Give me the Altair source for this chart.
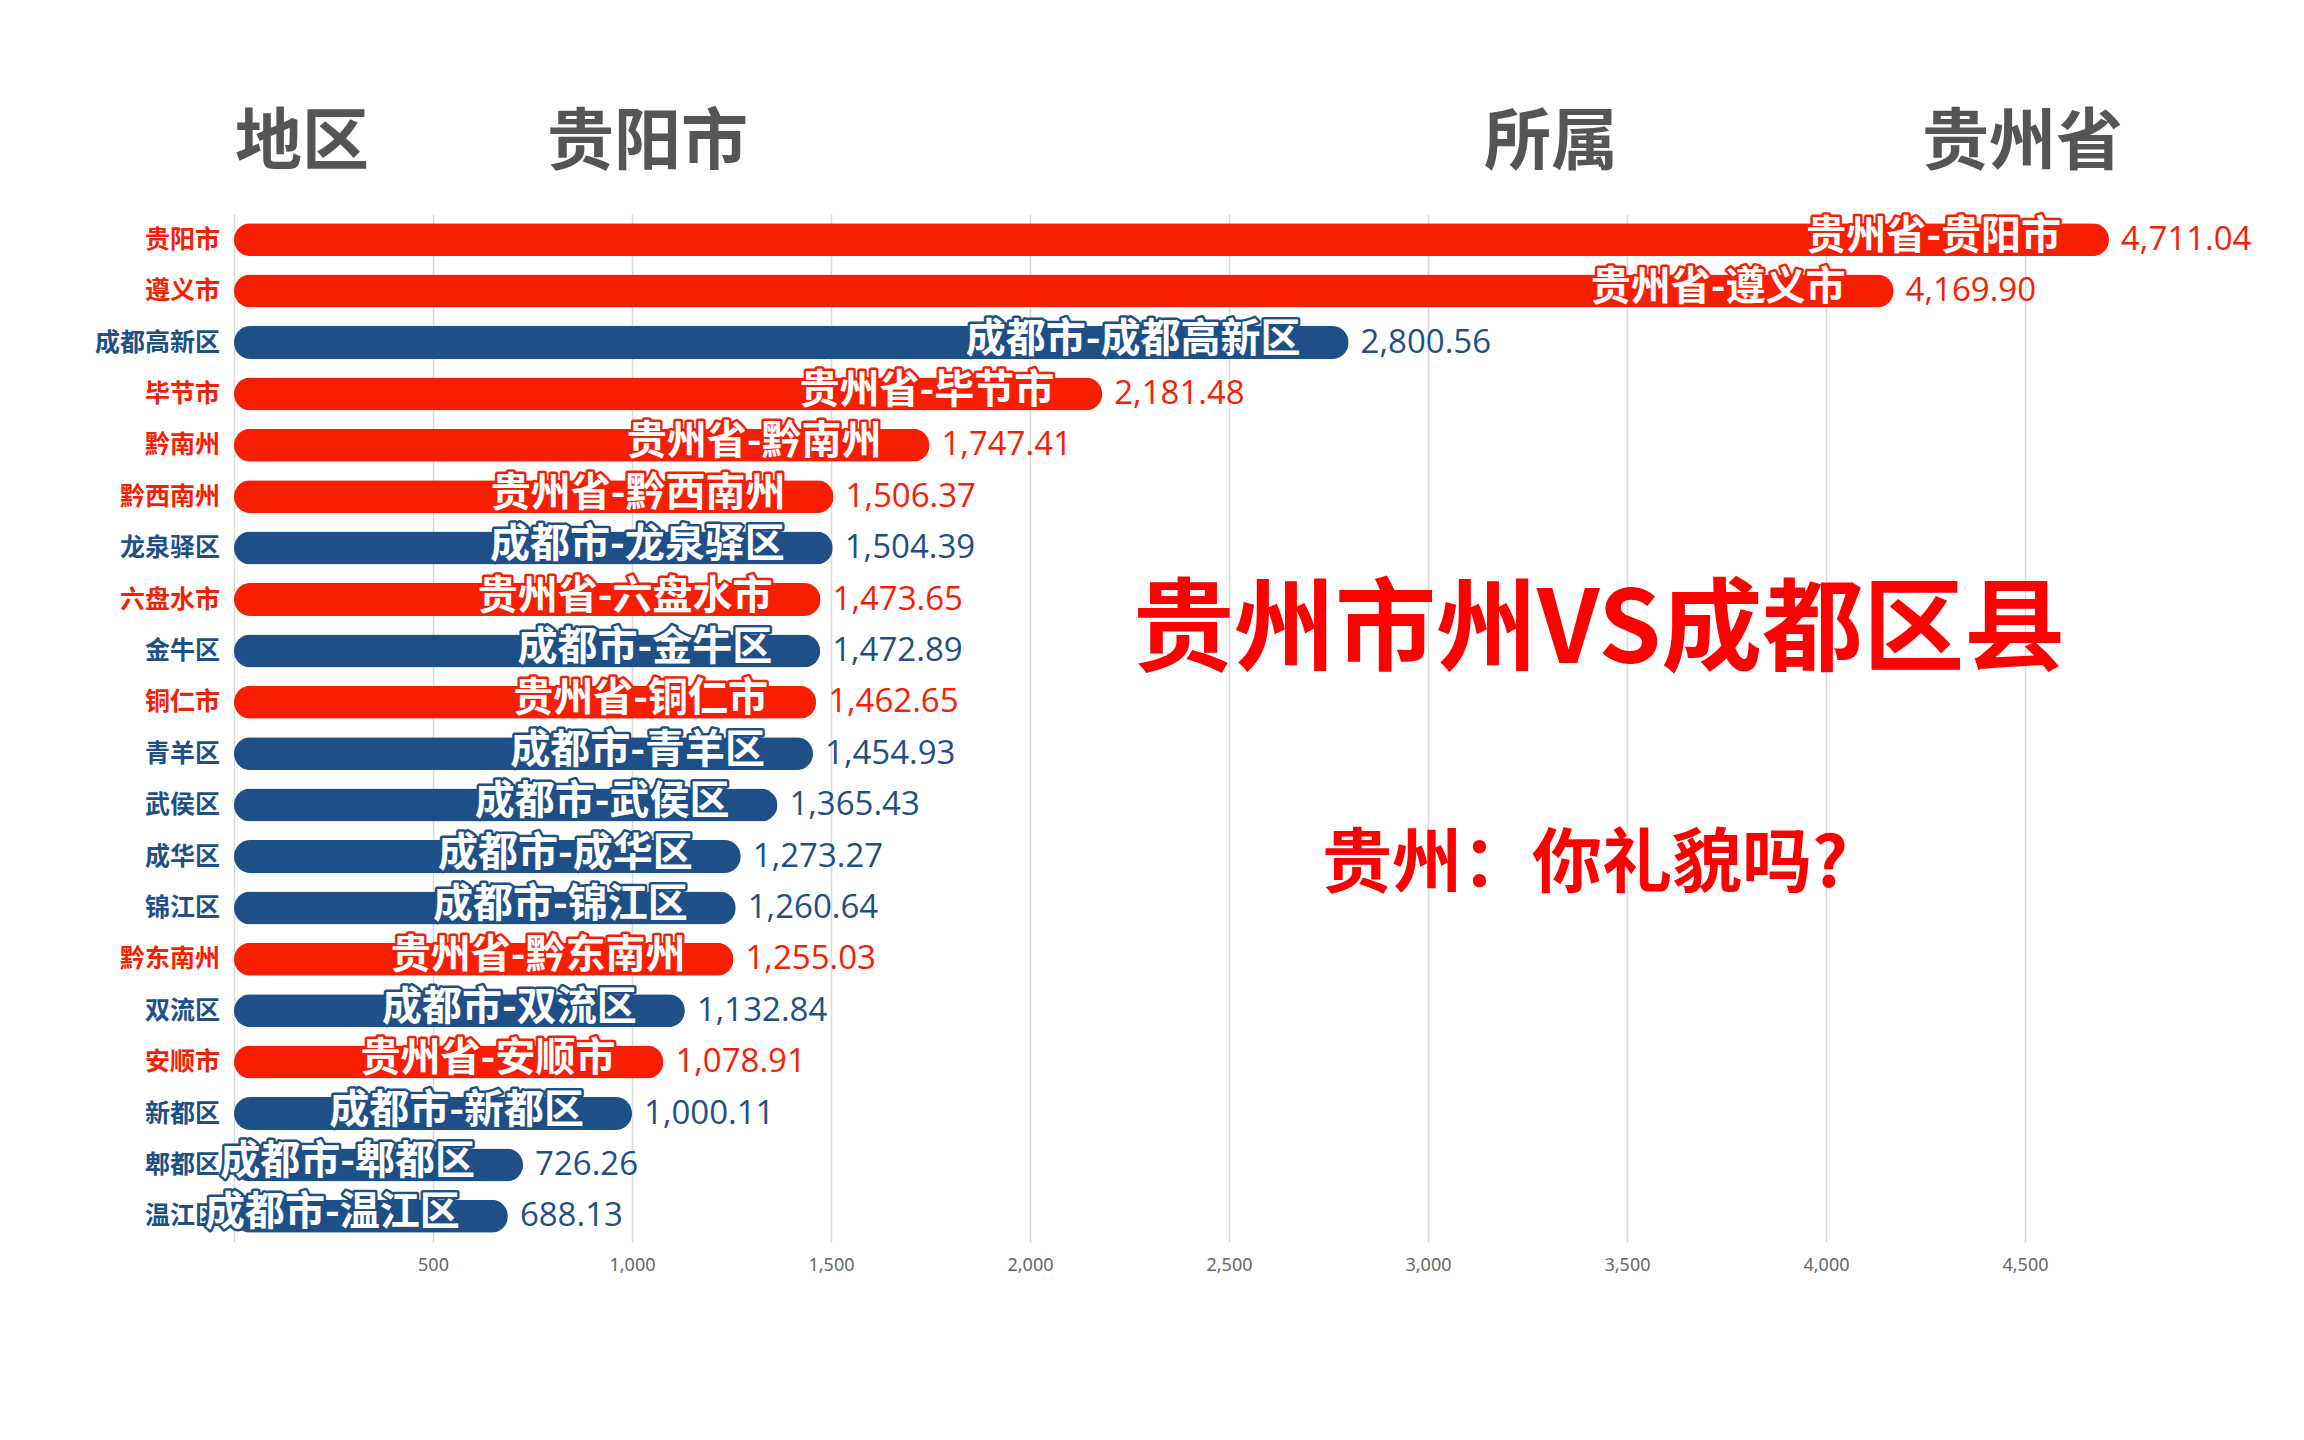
import altair as alt
import pandas as pd

names = ["贵阳市", "遵义市", "成都高新区", "毕节市", "黔南州", "黔西南州", "龙泉驿区", "六盘水市",
         "金牛区", "铜仁市", "青羊区", "武侯区", "成华区", "锦江区", "黔东南州", "双流区",
         "安顺市", "新都区", "郫都区", "温江区"]
values = [4711.04, 4169.90, 2800.56, 2181.48, 1747.41, 1506.37, 1504.39, 1473.65,
          1472.89, 1462.65, 1454.93, 1365.43, 1273.27, 1260.64, 1255.03, 1132.84,
          1078.91, 1000.11, 726.26, 688.13]
parents = ["贵州省", "贵州省", "成都市", "贵州省", "贵州省", "贵州省", "成都市", "贵州省",
           "成都市", "贵州省", "成都市", "成都市", "成都市", "成都市", "贵州省", "成都市",
           "贵州省", "成都市", "成都市", "成都市"]
tick_values = [0, 500, 1000, 1500, 2000, 2500, 3000, 3500, 4000, 4500]
header_texts = ["地区", "贵阳市", "所属", "贵州省"]
title_text = "贵州市州VS成都区县"
subtitle_text = "贵州：你礼貌吗?"

RED = "#F81E03"
BLUE = "#1E4F86"
CJK = "Noto Sans CJK SC"

df = pd.DataFrame({"name": names, "value": values, "parent": parents})
df["label"] = df["parent"] + "-" + df["name"]

color = alt.Color("parent:N", scale=alt.Scale(domain=["贵州省", "成都市"], range=[RED, BLUE]), legend=None)
x = alt.X("value:Q", scale=alt.Scale(domain=[0, 5000], nice=False),
          axis=alt.Axis(values=tick_values, title=None, grid=True, gridColor="#D9D9D9", gridWidth=1.5,
                        domain=False, ticks=False,
                        labelExpr="datum.value == 0 ? '' : format(datum.value, ',')",
                        labelFont="Noto Sans", labelFontSize=18, labelColor="#666666", labelPadding=14))
y = alt.Y("name:N", sort=names, scale=alt.Scale(paddingInner=0, paddingOuter=0), axis=None)

base = alt.Chart(df)

bars = base.mark_bar(size=33, cornerRadius=16.5).encode(x=x, y=y, color=color)

ylabels = base.mark_text(align="right", baseline="middle", font=CJK, fontWeight="bold", fontSize=25).encode(
    x=alt.value(-14), y=y, color=color, text="name:N")

outline = base.mark_text(align="right", baseline="middle", font=CJK, fontWeight="bold", fontSize=40,
                         dx=-48, dy=-3, strokeWidth=5, strokeJoin="round").encode(
    x="value:Q", y=y, stroke=color, fill=color, text="label:N")
inner = base.mark_text(align="right", baseline="middle", font=CJK, fontWeight="bold", fontSize=40,
                       dx=-48, dy=-3, fill="white").encode(
    x="value:Q", y=y, text="label:N")

vals = base.mark_text(align="left", baseline="middle", font="Open Sans", fontSize=33, dx=12).encode(
    x="value:Q", y=y, color=color, text=alt.Text("value:Q", format=",.2f"))

header_x = [1, 313, 1250, 1688]
headers = alt.layer(*[
    alt.Chart(pd.DataFrame({"t": [t]})).mark_text(align="left", baseline="middle", font=CJK,
                                                 fontWeight="bold", fontSize=67, color="#555555").encode(
        x=alt.value(hx), y=alt.value(-70), text="t:N")
    for t, hx in zip(header_texts, header_x)
])

title = alt.Chart(pd.DataFrame({"t": [title_text]})).mark_text(
    align="left", baseline="middle", font=CJK, fontWeight="bold", fontSize=101, color="#FF0000").encode(
    x=alt.value(899), y=alt.value(419), text="t:N")
subtitle = alt.Chart(pd.DataFrame({"t": [subtitle_text]})).mark_text(
    align="left", baseline="middle", font=CJK, fontWeight="bold", fontSize=70, color="#FF0000").encode(
    x=alt.value(1088), y=alt.value(652), text="t:N")

chart = alt.layer(bars, ylabels, outline, inner, vals, headers, title, subtitle).properties(
    width=1990, height=1028,
    background="white",
    autosize=alt.AutoSizeParams(type="none"),
    padding={"left": 226, "top": 206, "right": 72, "bottom": 190},
).configure_view(stroke=None, strokeWidth=0)

chart.save("out.html", embed_options={"renderer": "svg", "actions": False})
